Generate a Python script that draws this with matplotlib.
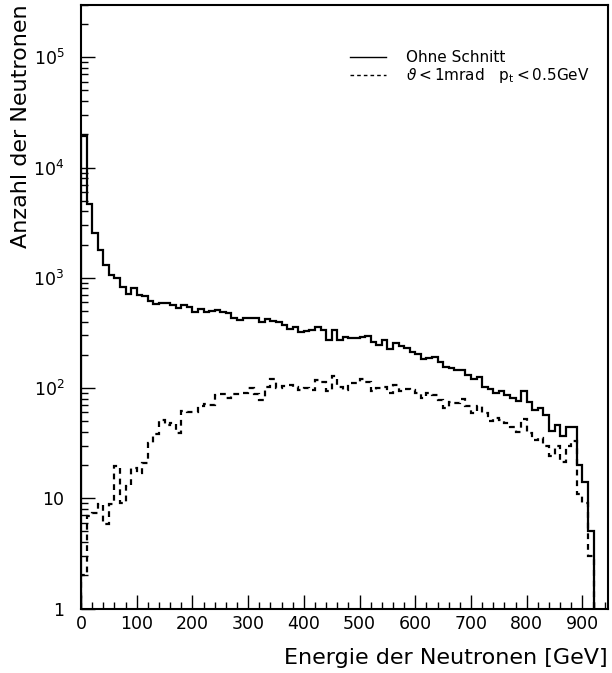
import matplotlib
matplotlib.use("Agg")
import matplotlib.pyplot as plt
import numpy as np
from matplotlib.lines import Line2D
from matplotlib.ticker import FixedLocator, FuncFormatter, LogLocator, NullFormatter

# bin edges in GeV (10 GeV bins, 0 .. 920)
edges = np.arange(0, 930, 10)

# "Ohne Schnitt"
counts_all = [
    19400, 4700, 2570, 1790, 1310, 1060, 990, 830, 714, 800,
    705, 685, 620, 580, 590, 596, 568, 530, 570, 541,
    488, 522, 488, 504, 514, 493, 483, 430, 415, 430,
    435, 430, 401, 424, 409, 393, 374, 341, 361, 321,
    330, 337, 361, 337, 273, 337, 273, 289, 283, 287,
    293, 297, 264, 246, 273, 225, 255, 241, 230, 210,
    204, 182, 186, 193, 174, 156, 151, 146, 146, 131,
    120, 127, 103, 98, 91, 93, 87, 81, 77, 93,
    75, 63, 66, 57, 41, 46, 37, 44, 44, 20,
    14, 5,
]

# theta < 1 mrad, pt < 0.5 GeV
counts_cut = [
    2.0, 6.9, 7.3, 8.9, 5.9, 8.9, 19.8, 9.0, 13.0, 18.7,
    16.9, 20.8, 31.6, 38, 51, 46, 48, 39, 62, 60,
    60, 68, 72, 70, 87, 88, 82, 89, 88, 90,
    100, 88, 78, 102, 120, 100, 105, 107, 103, 96,
    100, 96, 119, 114, 93, 129, 103, 96, 112, 112,
    120, 114, 93, 100, 103, 90, 107, 93, 98, 96,
    90, 81, 90, 87, 78, 66, 75, 73, 79, 68,
    59, 68, 59, 50, 53, 51, 48, 44, 40, 52,
    39, 34, 35, 30, 24, 30, 21.5, 30, 33, 11,
    9, 3,
]

labels = ["Ohne Schnitt", r"$\vartheta$$<$1mrad   p$_{\rm t}$$<$0.5GeV"]

plt.rcParams["font.family"] = "DejaVu Sans"
plt.rcParams["mathtext.fontset"] = "dejavusans"

fig = plt.figure(figsize=(6.12, 6.73), dpi=100)
ax = fig.add_axes([81 / 612, 1 - 608.5 / 673, 527 / 612, (608.5 - 4.7) / 673])

dash = (0, (2.6, 2.2))
ax.stairs(counts_all, edges, baseline=1, color="black", lw=1.6)
ax.stairs(counts_cut, edges, baseline=1, color="black", lw=1.6, linestyle=dash)

ax.set_yscale("log")
ax.set_xlim(0, 946)
ax.set_ylim(1, 3.0e5)

ax.xaxis.set_major_locator(FixedLocator(np.arange(0, 901, 100)))
ax.xaxis.set_minor_locator(FixedLocator(np.arange(0, 941, 20)))
ax.yaxis.set_major_locator(LogLocator(base=10, numticks=10))
ax.yaxis.set_minor_locator(LogLocator(base=10, subs=np.arange(2, 10), numticks=20))
ax.yaxis.set_minor_formatter(NullFormatter())


def ylab(v, pos):
    e = int(round(np.log10(v)))
    if e == 0:
        return "1"
    if e == 1:
        return "10"
    return r"$10^{%d}$" % e


ax.yaxis.set_major_formatter(FuncFormatter(ylab))

ax.tick_params(which="both", direction="in", top=False, right=False, width=1.0)
ax.tick_params(which="major", length=10, labelsize=12.5)
ax.tick_params(axis="y", which="major", pad=12)
ax.tick_params(axis="x", which="major", pad=5)
ax.tick_params(which="minor", length=5)
for s in ax.spines.values():
    s.set_linewidth(1.5)

ax.set_xlabel("Energie der Neutronen [GeV]", loc="right", fontsize=16)
ax.set_ylabel("Anzahl der Neutronen", loc="top", fontsize=16)
ax.xaxis.set_label_coords(1.0, -0.066)
ax.yaxis.set_label_coords(-0.094, 1.0)

handles = [
    Line2D([], [], color="black", lw=1.0),
    Line2D([], [], color="black", lw=1.0, linestyle=dash),
]
ax.legend(
    handles,
    labels,
    loc="center left",
    bbox_to_anchor=(0.51, 0.896),
    frameon=False,
    fontsize=11,
    handlelength=2.4,
    handletextpad=1.3,
    labelspacing=0.05,
    borderpad=0,
    borderaxespad=0,
)

fig.savefig("out.png", dpi=100)
